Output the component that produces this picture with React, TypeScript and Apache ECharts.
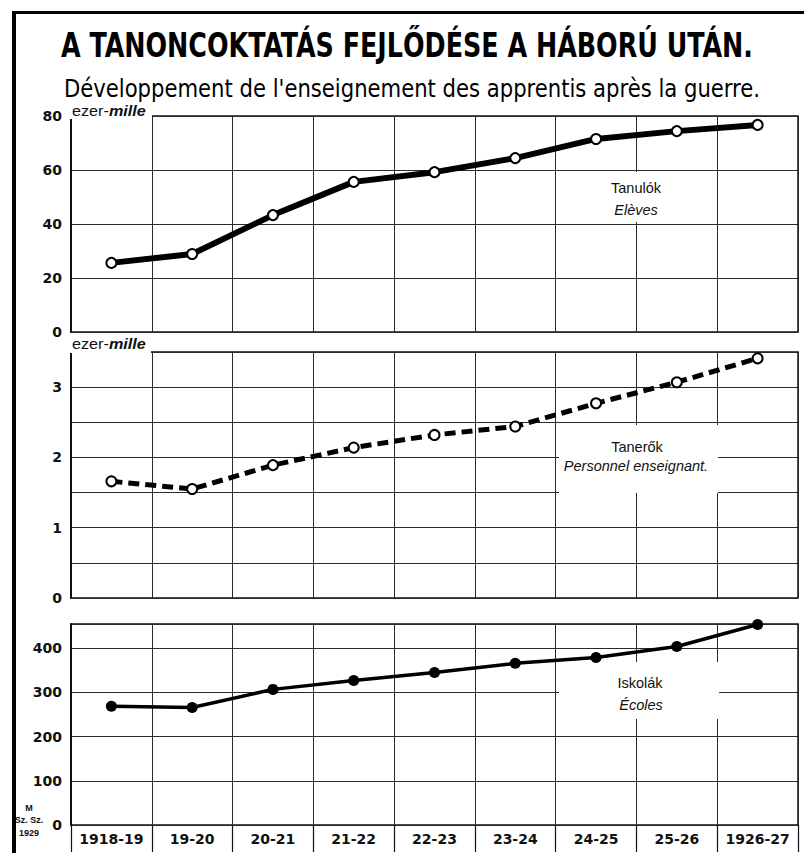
import React, { useEffect, useRef } from 'react';
import * as echarts from 'echarts';

// Categories (school years)
const categories = ['1918-19', '19-20', '20-21', '21-22', '22-23', '23-24', '24-25', '25-26', '1926-27'];
// Tanulók / Elèves (thousand)
const students = [25.6, 28.9, 43.3, 55.6, 59.2, 64.4, 71.5, 74.4, 76.7];
// Tanerők / Personnel enseignant (thousand)
const teachers = [1.66, 1.55, 1.89, 2.14, 2.32, 2.44, 2.77, 3.07, 3.41];
// Iskolák / Écoles
const schools = [269, 266, 307, 327, 345, 366, 379, 404, 454];

const title = 'A TANONCOKTATÁS FEJLŐDÉSE A HÁBORÚ UTÁN.';
const subtitle = "Développement de l'enseignement des apprentis après la guerre.";

const INK = '#111';
const GRID = '#2a2a2a';
const LABEL_FONT = '"DejaVu Sans", sans-serif';

export default function App() {
  const ref = useRef<HTMLDivElement>(null);

  useEffect(() => {
    if (!ref.current) return;
    const chart = echarts.init(ref.current, undefined, { renderer: 'svg' });

    const grids = [
      { left: 71, top: 116, width: 727, height: 216 },
      { left: 71, top: 352, width: 727, height: 246 },
      { left: 71, top: 624, width: 727, height: 201 },
    ];

    const xAxes = grids.map((_, i) => ({
      type: 'category',
      gridIndex: i,
      data: categories,
      boundaryGap: true,
      axisLine: { show: false },
      axisTick: {
        show: i === 2,
        interval: 0,
        length: 27,
        lineStyle: { color: INK, width: 1.2 },
      },
      axisLabel: {
        show: i === 2,
        interval: 0,
        margin: 7,
        color: INK,
        fontFamily: LABEL_FONT,
        fontWeight: 'bold',
        fontSize: 14,
      },
      splitLine: { show: true, interval: 0, lineStyle: { color: GRID, width: 1 } },
    }));

    const yBase = (i: number) => ({
      type: 'value',
      gridIndex: i,
      min: 0,
      axisLine: { show: true, lineStyle: { color: INK, width: 2 } },
      axisTick: { show: false },
      splitLine: { show: true, lineStyle: { color: GRID, width: 1 } },
      axisLabel: {
        color: INK,
        fontFamily: LABEL_FONT,
        fontSize: 14,
        fontWeight: 'bold',
        margin: 9,
      },
    });

    const yAxes = [
      { ...yBase(0), max: 80, interval: 20 },
      {
        ...yBase(1),
        max: 3.5,
        interval: 0.5,
        axisLabel: {
          ...yBase(1).axisLabel,
          formatter: (v: number) => (Math.abs(v - Math.round(v)) < 1e-9 ? String(Math.round(v)) : ''),
        },
      },
      {
        ...yBase(2),
        max: 455,
        interval: 100,
        axisLabel: {
          ...yBase(2).axisLabel,
          formatter: (v: number) => (v % 100 === 0 ? String(v) : ''),
        },
      },
    ];

    const hollow = {
      symbol: 'circle',
      symbolSize: 10,
      itemStyle: { color: '#fff', borderColor: '#000', borderWidth: 2 },
    };

    const labelBox = (x: number, y: number, w: number, h: number) => ({
      type: 'rect',
      z: 1,
      silent: true,
      shape: { x, y, width: w, height: h },
      style: { fill: '#fff' },
    });

    const txt = (x: number, y: number, text: string, opts: any = {}, extra: any = {}) => ({
      type: 'text',
      z: 5,
      silent: true,
      x,
      y,
      ...extra,
      style: {
        text,
        fill: INK,
        align: 'center',
        verticalAlign: 'middle',
        fontFamily: '"Liberation Sans", "DejaVu Sans", sans-serif',
        fontSize: 14.5,
        ...opts,
      },
    });

    const ezerMille = (x: number, y: number) => ({
      type: 'text',
      z: 5,
      silent: true,
      x,
      y,
      scaleX: 1.08,
      style: {
        text: '{a|ezer-}{b|mille}',
        align: 'left',
        verticalAlign: 'middle',
        rich: {
          a: { fontFamily: '"Liberation Sans", sans-serif', fontSize: 15, fill: INK },
          b: { fontFamily: '"Liberation Sans", sans-serif', fontSize: 15, fontStyle: 'italic', fontWeight: 'bold', fill: INK },
        },
      },
    });

    const option: any = {
      animation: false,
      backgroundColor: '#fff',
      grid: grids.map((g) => ({ ...g, show: true, borderColor: INK, borderWidth: 1.5, backgroundColor: 'transparent' })),
      xAxis: xAxes,
      yAxis: yAxes,
      series: [
        {
          name: 'Tanulók',
          type: 'line',
          xAxisIndex: 0,
          yAxisIndex: 0,
          data: students,
          ...hollow,
          lineStyle: { color: '#000', width: 6 },
          z: 3,
        },
        {
          name: 'Tanerők',
          type: 'line',
          xAxisIndex: 1,
          yAxisIndex: 1,
          data: teachers,
          ...hollow,
          lineStyle: { color: '#000', width: 5, type: [11, 6] },
          z: 3,
        },
        {
          name: 'Iskolák',
          type: 'line',
          xAxisIndex: 2,
          yAxisIndex: 2,
          data: schools,
          symbol: 'circle',
          symbolSize: 11,
          itemStyle: { color: '#000' },
          lineStyle: { color: '#000', width: 3.5 },
          z: 3,
        },
      ],
      graphic: [
        // outer frame
        { type: 'rect', z: 6, silent: true, shape: { x: 12, y: 11, width: 4, height: 842 }, style: { fill: '#000' } },
        { type: 'rect', z: 6, silent: true, shape: { x: 12, y: 11, width: 792, height: 3 }, style: { fill: '#000' } },
        // title & subtitle
        txt(407, 45, title, {
          fontFamily: '"DejaVu Sans Condensed", "Liberation Sans Narrow", "DejaVu Sans", sans-serif',
          fontWeight: 'bold',
          fontSize: 34,
          fill: '#000',
        }, { scaleX: 0.83 }),
        txt(412, 89, subtitle, {
          fontFamily: '"DejaVu Sans Condensed", "Liberation Sans Narrow", "DejaVu Sans", sans-serif',
          fontSize: 24,
          fill: '#000',
        }, { scaleX: 0.98 }),
        // unit labels covering the top lines
        labelBox(70, 103, 82, 16),
        ezerMille(72, 111),
        labelBox(70, 336, 81, 17),
        ezerMille(72, 344),
        // series labels
        labelBox(600, 172, 76, 50),
        txt(636, 188, 'Tanulók'),
        txt(636, 210, 'Elèves', { fontStyle: 'italic' }),
        labelBox(559, 425, 159, 68),
        txt(637, 447, 'Tanerők'),
        txt(636, 466, 'Personnel enseignant.', { fontStyle: 'italic' }),
        labelBox(559, 662, 160, 57),
        txt(640, 683, 'Iskolák'),
        txt(641, 705, 'Écoles', { fontStyle: 'italic' }),
        // source mark
        txt(29, 808, 'M', { fontSize: 9, fontWeight: 'bold' }),
        txt(29, 820, 'Sz. Sz.', { fontSize: 9, fontWeight: 'bold' }),
        txt(29, 833, '1929', { fontSize: 9, fontWeight: 'bold' }),
      ],
    };

    chart.setOption(option);
    return () => chart.dispose();
  }, []);

  return (
    <div
      ref={ref}
      style={{ position: 'absolute', left: 0, top: 0, width: 804, height: 853, background: '#fff' }}
    />
  );
}
